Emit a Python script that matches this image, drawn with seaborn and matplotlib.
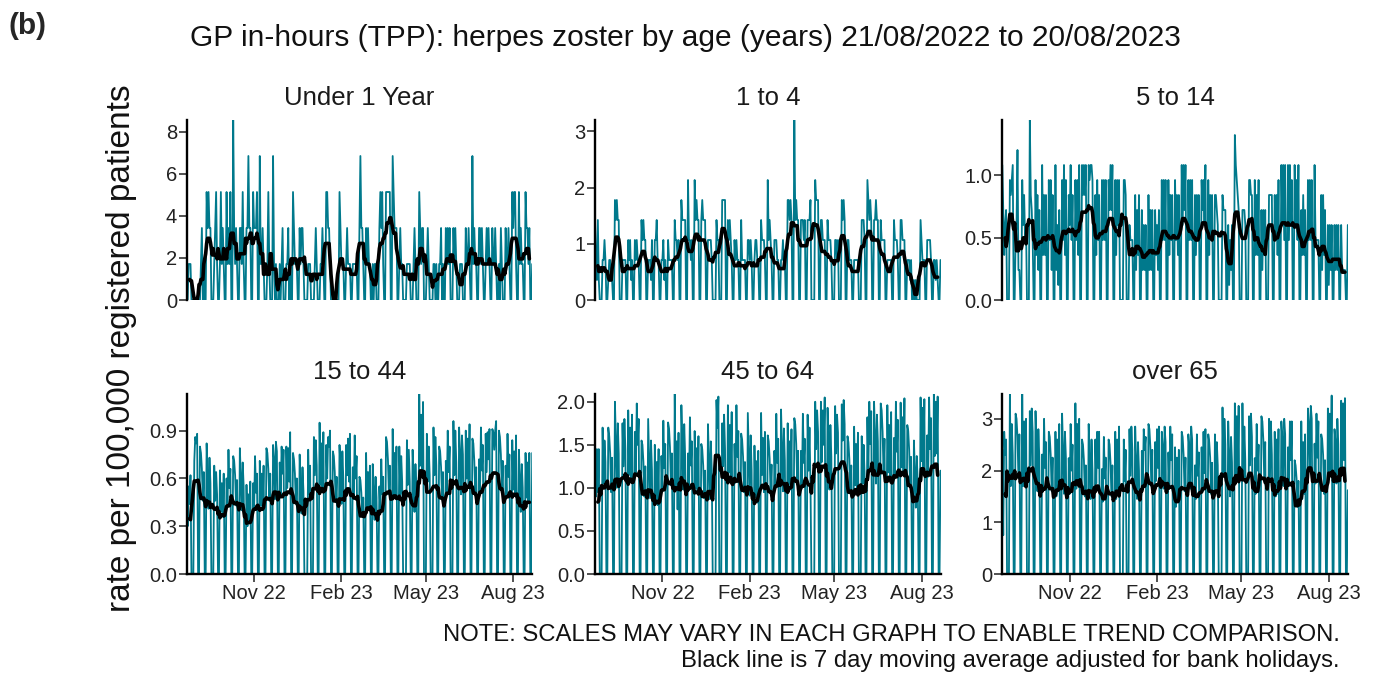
import numpy as np
import pandas as pd
import matplotlib
matplotlib.use("Agg")
import matplotlib.pyplot as plt
import matplotlib.dates as mdates
from matplotlib.ticker import FixedLocator, FormatStrFormatter
import seaborn as sns

# ---------------------------------------------------------------------------
# Daily data, Monday 22/08/2022 onwards (weeks laid out Mon..Sun, one per row).
# Practices are closed at weekends and on bank holidays, hence the zeros.
# ---------------------------------------------------------------------------
start_date = "2022-08-22"
bank_holidays = ["2022-08-29", "2022-09-19", "2022-12-26", "2022-12-27", "2023-01-02",
                 "2023-04-07", "2023-04-10", "2023-05-01", "2023-05-08", "2023-05-29"]

age_groups = ["Under 1 Year", "1 to 4", "5 to 14", "15 to 44", "45 to 64", "over 65"]

# Small age bands: daily consultation counts and registered population
under1_pop = 58500
under1_counts = [
    1, 0, 1, 1, 1, 0, 0,  0, 0, 0, 0, 0, 0, 0,  0, 1, 2, 0, 1, 0, 0,  3, 2, 3, 2, 2, 0, 0,
    0, 1, 2, 3, 1, 0, 0,  1, 3, 1, 2, 1, 0, 0,  3, 1, 2, 1, 3, 0, 0,  5, 2, 1, 2, 1, 0, 0,
    2, 2, 1, 3, 1, 0, 0,  2, 2, 4, 2, 2, 0, 0,  3, 2, 2, 2, 3, 0, 0,  4, 1, 1, 2, 1, 0, 0,
    0, 1, 3, 1, 0, 0, 0,  4, 1, 0, 1, 0, 0, 0,  1, 0, 1, 2, 0, 0, 0,  1, 1, 2, 0, 1, 0, 0,
    3, 2, 1, 1, 1, 0, 0,  2, 1, 2, 2, 1, 0, 0,  0, 0, 1, 1, 1, 0, 0,  0, 0, 1, 2, 1, 0, 0,
    0, 1, 1, 2, 1, 0, 0,  3, 3, 2, 2, 1, 0, 0,  0, 0, 0, 0, 0, 0, 0,  3, 2, 1, 1, 1, 0, 0,
    1, 2, 1, 1, 1, 0, 0,  1, 1, 1, 1, 1, 0, 0,  2, 4, 2, 2, 1, 0, 0,  2, 1, 2, 1, 1, 0, 0,
    1, 0, 1, 1, 0, 0, 0,  2, 3, 2, 3, 1, 0, 0,  3, 3, 3, 3, 3, 0, 0,  4, 3, 2, 2, 2, 0, 0,
    1, 2, 1, 1, 0, 0, 0,  0, 1, 1, 1, 1, 0, 0,  0, 1, 2, 1, 0, 0, 0,  3, 2, 1, 2, 2, 0, 0,
    0, 1, 2, 1, 0, 0, 0,  0, 1, 1, 0, 1, 0, 0,  1, 1, 2, 0, 1, 0, 0,  2, 1, 2, 1, 2, 0, 0,
    0, 2, 1, 2, 1, 0, 0,  0, 1, 1, 1, 0, 0, 0,  2, 1, 1, 2, 1, 0, 0,  4, 1, 2, 1, 1, 0, 0,
    2, 2, 1, 2, 1, 0, 0,  1, 2, 1, 2, 1, 0, 0,  2, 1, 1, 2, 1, 0, 0,  1, 0, 2, 1, 0, 0, 0,
    2, 1, 1, 2, 1, 0, 0,  3, 2, 3, 3, 1, 0, 0,  3, 1, 2, 1, 1, 0, 0,  3, 2, 2, 1, 2, 0, 0,
    1,
]

age1to4_pop = 281200
age1to4_counts = [
    4, 2, 1, 4, 1, 0, 0,  0, 2, 2, 3, 2, 0, 0,  1, 2, 2, 1, 1, 0, 0,  5, 4, 5, 4, 4, 0, 0,
    0, 2, 2, 2, 2, 0, 0,  3, 2, 3, 1, 2, 0, 0,  3, 2, 3, 2, 2, 0, 0,  4, 3, 4, 3, 3, 0, 0,
    2, 2, 2, 1, 3, 0, 0,  3, 3, 4, 2, 2, 0, 0,  2, 2, 3, 1, 2, 0, 0,  3, 2, 2, 2, 2, 0, 0,
    4, 3, 3, 2, 3, 0, 0,  5, 4, 4, 4, 4, 0, 0,  6, 3, 3, 2, 3, 0, 0,  6, 4, 5, 4, 4, 0, 0,
    4, 5, 4, 4, 4, 0, 0,  3, 3, 3, 3, 2, 0, 0,  0, 0, 4, 3, 3, 0, 0,  0, 5, 5, 5, 5, 0, 0,
    4, 3, 4, 3, 2, 0, 0,  3, 2, 3, 2, 2, 0, 0,  4, 2, 2, 2, 2, 0, 0,  3, 3, 2, 3, 2, 0, 0,
    2, 3, 3, 2, 2, 0, 0,  4, 3, 3, 3, 2, 0, 0,  6, 3, 4, 3, 2, 0, 0,  3, 3, 3, 2, 2, 0, 0,
    2, 2, 3, 2, 2, 0, 0,  5, 5, 4, 5, 4, 0, 0,  9, 4, 5, 4, 4, 0, 0,  4, 4, 4, 3, 4, 0, 0,
    4, 4, 4, 5, 0, 0, 0,  0, 6, 5, 5, 5, 0, 0,  4, 4, 3, 3, 3, 0, 0,  4, 3, 3, 3, 2, 0, 0,
    0, 3, 3, 2, 3, 0, 0,  0, 5, 4, 5, 4, 0, 0,  3, 3, 2, 2, 2, 0, 0,  2, 2, 2, 2, 2, 0, 0,
    0, 4, 4, 4, 3, 0, 0,  6, 5, 4, 5, 4, 0, 0,  4, 4, 5, 4, 4, 0, 0,  4, 3, 3, 3, 3, 0, 0,
    2, 2, 2, 2, 2, 0, 0,  4, 3, 3, 3, 2, 0, 0,  4, 4, 3, 3, 3, 0, 0,  2, 2, 2, 1, 2, 0, 0,
    1, 0, 1, 0, 0, 0, 0,  4, 3, 2, 2, 2, 0, 0,  3, 3, 3, 3, 2, 0, 0,  2, 2, 1, 2, 1, 0, 0,
    2,
]

age5to14_pop = 833000
age5to14_counts = [
    9, 6, 3, 5, 6, 0, 0,  0, 8, 7, 8, 9, 0, 0,  4, 5, 10, 2, 2, 0, 0,  8, 5, 7, 4, 5, 0, 0,
    0, 12, 7, 6, 4, 0, 0,  8, 3, 7, 2, 6, 0, 0,  9, 3, 7, 3, 7, 0, 0,  8, 4, 8, 2, 7, 0, 0,
    9, 2, 5, 1, 6, 0, 0,  8, 4, 9, 3, 8, 0, 0,  7, 5, 9, 4, 7, 0, 0,  8, 4, 8, 3, 9, 0, 0,
    9, 7, 9, 7, 9, 0, 0,  9, 8, 9, 9, 8, 0, 0,  7, 3, 8, 4, 7, 0, 0,  8, 4, 8, 4, 8, 0, 0,
    8, 6, 9, 6, 9, 0, 0,  8, 3, 8, 5, 8, 0, 0,  0, 0, 8, 8, 7, 0, 0,  0, 5, 4, 4, 4, 0, 0,
    7, 2, 6, 3, 7, 0, 0,  6, 2, 5, 2, 5, 0, 0,  7, 2, 6, 2, 6, 0, 0,  6, 3, 5, 2, 6, 0, 0,
    8, 4, 8, 4, 8, 0, 0,  8, 3, 7, 4, 7, 0, 0,  8, 4, 7, 3, 7, 0, 0,  9, 5, 9, 6, 9, 0, 0,
    8, 4, 8, 4, 8, 0, 0,  7, 3, 7, 4, 7, 0, 0,  8, 6, 8, 5, 9, 0, 0,  8, 3, 7, 4, 7, 0, 0,
    7, 7, 6, 5, 0, 0, 0,  0, 7, 6, 6, 6, 0, 0,  5, 1, 4, 2, 5, 0, 0,  11, 9, 8, 7, 6, 0, 0,
    0, 6, 6, 6, 5, 0, 0,  0, 8, 8, 7, 7, 0, 0,  8, 3, 7, 3, 8, 0, 0,  6, 2, 6, 3, 6, 0, 0,
    0, 7, 7, 7, 7, 0, 0,  7, 4, 7, 3, 8, 0, 0,  9, 5, 9, 4, 9, 0, 0,  9, 4, 9, 5, 8, 0, 0,
    9, 5, 8, 4, 9, 0, 0,  6, 3, 7, 3, 6, 0, 0,  8, 4, 8, 4, 8, 0, 0,  9, 4, 4, 4, 4, 0, 0,
    7, 2, 7, 3, 6, 0, 0,  5, 1, 5, 2, 5, 0, 0,  5, 2, 5, 2, 5, 0, 0,  5, 2, 2, 2, 2, 0, 0,
    5,
]

# Larger age bands: daily rate per 100,000 registered patients
age15to44_rate = [
    0.52, 0.30, 0.55, 0.44, 0.62, 0, 0,  0, 0.71, 0.86, 0.82, 0.88, 0, 0,
    0.80, 0.76, 0.66, 0.46, 0.64, 0, 0,  0.82, 0.63, 0.41, 0.73, 0.57, 0, 0,
    0, 0.68, 0.46, 0.64, 0.50, 0, 0,  0.65, 0.39, 0.57, 0.36, 0.63, 0, 0,
    0.60, 0.42, 0.78, 0.54, 0.66, 0, 0,  0.74, 0.71, 0.62, 0.43, 0.59, 0, 0,
    0.79, 0.61, 0.40, 0.70, 0.55, 0, 0,  0.56, 0.30, 0.50, 0.32, 0.58, 0, 0,
    0.57, 0.40, 0.74, 0.51, 0.63, 0, 0,  0.71, 0.43, 0.63, 0.40, 0.68, 0, 0,
    0.79, 0.76, 0.66, 0.46, 0.63, 0, 0,  0.81, 0.72, 0.47, 0.83, 0.77, 0, 0,
    0.70, 0.49, 0.80, 0.63, 0.78, 0, 0,  0.80, 0.54, 0.79, 0.58, 0.89, 0, 0,
    0.76, 0.72, 0.63, 0.44, 0.60, 0, 0,  0.75, 0.58, 0.38, 0.67, 0.52, 0, 0,
    0, 0, 0.78, 0.50, 0.68, 0, 0,  0, 0.86, 0.62, 0.84, 0.68, 0, 0,
    0.95, 0.56, 0.82, 0.53, 0.89, 0, 0,  0.81, 0.60, 0.86, 0.80, 0.90, 0, 0,
    0.77, 0.74, 0.64, 0.45, 0.61, 0, 0,  0.81, 0.67, 0.44, 0.77, 0.60, 0, 0,
    0.81, 0.62, 0.85, 0.58, 0.88, 0, 0,  0.67, 0.47, 0.87, 0.60, 0.74, 0, 0,
    0.61, 0.59, 0.51, 0.36, 0.48, 0, 0,  0.76, 0.41, 0.64, 0.41, 0.68, 0, 0,
    0.69, 0.53, 0.34, 0.61, 0.48, 0, 0,  0.55, 0.39, 0.72, 0.50, 0.61, 0, 0,
    0.86, 0.83, 0.72, 0.50, 0.68, 0, 0,  0.91, 0.48, 0.76, 0.48, 0.80, 0, 0,
    0.80, 0.50, 0.74, 0.58, 0, 0, 0,  0, 0.84, 0.56, 0.78, 0.58, 0, 0,
    0.78, 0.60, 0.39, 0.69, 0.54, 0, 0,  1.13, 0.68, 1.00, 0.64, 1.08, 0, 0,
    0, 0.88, 0.58, 0.80, 0.62, 0, 0,  0, 0.92, 0.62, 0.86, 0.68, 0, 0,
    0.80, 0.77, 0.67, 0.47, 0.64, 0, 0,  0.71, 0.50, 0.90, 0.64, 0.80, 0, 0,
    0, 0.96, 0.62, 0.90, 0.70, 0, 0,  0.92, 0.76, 0.50, 0.87, 0.75, 0, 0,
    0.90, 0.60, 0.85, 0.56, 0.94, 0, 0,  0.85, 0.82, 0.71, 0.50, 0.67, 0, 0,
    0.72, 0.50, 0.92, 0.65, 0.81, 0, 0,  0.88, 0.64, 0.89, 0.72, 0.91, 0, 0,
    0.91, 0.89, 0.78, 0.90, 0.96, 0, 0,  0.90, 0.86, 0.75, 0.53, 0.71, 0, 0,
    0.68, 0.48, 0.88, 0.61, 0.75, 0, 0,  0.84, 0.53, 0.77, 0.49, 0.87, 0, 0,
    0.78, 0.60, 0.39, 0.69, 0.54, 0, 0,  0.76, 0.48, 0.70, 0.45, 0.76, 0, 0,
    0.76,
]

age45to64_rate = [
    1.10, 0.90, 1.45, 0.95, 1.45, 0, 0,  0, 1.70, 1.05, 1.55, 1.30, 0, 0,
    1.70, 1.60, 1.40, 0.95, 1.35, 0, 0,  2.00, 1.55, 1.00, 1.75, 1.40, 0, 0,
    0, 1.75, 1.25, 1.80, 1.45, 0, 0,  1.90, 1.15, 1.70, 1.10, 1.85, 0, 0,
    1.65, 1.15, 1.98, 1.50, 1.80, 0, 0,  1.55, 1.50, 1.30, 0.90, 1.25, 0, 0,
    1.80, 1.36, 0.88, 1.55, 1.21, 0, 0,  1.50, 0.85, 1.30, 0.80, 1.45, 0, 0,
    1.37, 0.96, 1.78, 1.23, 1.51, 0, 0,  1.76, 1.69, 1.47, 1.03, 1.40, 0, 0,
    2.09, 0.98, 1.54, 0.75, 1.64, 0, 0,  1.96, 1.51, 0.98, 1.74, 1.36, 0, 0,
    1.40, 0.98, 1.82, 1.26, 1.54, 0, 0,  1.66, 1.00, 1.46, 0.93, 1.60, 0, 0,
    1.51, 1.45, 1.26, 0.88, 1.20, 0, 0,  1.74, 1.34, 0.87, 1.54, 1.21, 0, 0,
    0, 0, 2.02, 1.70, 2.06, 0, 0,  0, 1.75, 1.25, 1.85, 1.45, 0, 0,
    1.96, 1.18, 1.73, 1.10, 1.88, 0, 0,  1.51, 1.06, 1.96, 1.36, 1.66, 0, 0,
    1.63, 1.56, 1.36, 0.95, 1.30, 0, 0,  1.87, 1.40, 0.91, 1.61, 1.21, 0, 0,
    1.49, 0.89, 1.31, 0.83, 1.43, 0, 0,  1.87, 1.15, 1.58, 0.95, 1.65, 0, 0,
    1.61, 1.54, 1.34, 0.94, 1.27, 0, 0,  1.43, 1.00, 1.86, 1.29, 1.57, 0, 0,
    1.91, 1.47, 0.96, 1.69, 1.32, 0, 0,  1.75, 1.05, 1.54, 0.98, 1.68, 0, 0,
    1.81, 1.74, 1.51, 1.06, 1.43, 0, 0,  1.43, 1.00, 1.86, 1.29, 1.57, 0, 0,
    1.85, 1.20, 1.70, 1.05, 0, 0, 0,  0, 2.00, 1.45, 1.90, 1.65, 0, 0,
    2.00, 1.30, 1.90, 1.50, 2.05, 0, 0,  1.93, 1.50, 0.98, 1.73, 1.36, 0, 0,
    0, 1.95, 1.40, 1.85, 1.64, 0, 0,  0, 1.97, 1.55, 2.02, 1.74, 0, 0,
    1.60, 1.53, 1.33, 0.93, 1.26, 0, 0,  1.71, 1.03, 1.51, 0.96, 1.64, 0, 0,
    0, 1.60, 1.05, 1.50, 1.17, 0, 0,  1.82, 1.18, 2.00, 1.51, 1.89, 0, 0,
    2.00, 1.61, 1.05, 1.85, 1.54, 0, 0,  1.98, 1.90, 1.65, 1.16, 1.57, 0, 0,
    1.96, 1.18, 1.73, 1.10, 1.88, 0, 0,  1.58, 1.11, 2.00, 1.42, 1.79, 0, 0,
    1.99, 1.24, 1.82, 1.16, 2.04, 0, 0,  1.73, 1.66, 1.44, 1.01, 1.36, 0, 0,
    1.55, 1.19, 0.77, 1.37, 1.07, 0, 0,  2.05, 1.31, 1.93, 1.23, 2.03, 0, 0,
    1.61, 1.13, 2.05, 1.45, 1.81, 0, 0,  2.09, 1.37, 2.00, 1.40, 2.06, 0, 0,
    1.20,
]

over65_rate = [
    2.40, 0.75, 2.75, 2.30, 2.60, 0, 0,  0, 3.48, 1.70, 2.90, 2.30, 0, 0,
    3.10, 3.00, 2.65, 1.85, 2.70, 0, 0,  3.48, 1.70, 2.95, 1.80, 3.00, 0, 0,
    0, 3.15, 2.10, 3.20, 2.75, 0, 0,  3.15, 2.45, 1.60, 2.80, 2.25, 0, 0,
    2.31, 1.60, 3.00, 2.05, 2.55, 0, 0,  2.75, 2.65, 2.30, 1.60, 2.25, 0, 0,
    2.75, 1.50, 2.60, 1.60, 2.90, 0, 0,  3.10, 2.40, 1.55, 2.75, 2.25, 0, 0,
    2.24, 1.55, 2.90, 2.00, 2.50, 0, 0,  3.30, 1.65, 2.90, 1.75, 3.00, 0, 0,
    2.60, 2.50, 2.20, 1.50, 2.10, 0, 0,  2.90, 2.25, 1.45, 2.60, 2.00, 0, 0,
    2.60, 1.75, 2.75, 2.05, 2.75, 0, 0,  2.03, 1.40, 2.65, 1.85, 2.25, 0, 0,
    2.60, 2.50, 2.15, 1.50, 2.10, 0, 0,  2.75, 1.45, 2.60, 1.55, 2.85, 0, 0,
    0, 0, 2.60, 1.80, 2.40, 0, 0,  0, 2.80, 1.90, 2.85, 2.40, 0, 0,
    2.85, 2.20, 1.45, 2.55, 2.00, 0, 0,  2.38, 1.65, 2.80, 2.40, 2.65, 0, 0,
    2.90, 2.80, 2.45, 1.70, 2.40, 0, 0,  2.55, 1.80, 2.80, 2.05, 2.85, 0, 0,
    2.75, 2.45, 1.65, 2.85, 2.55, 0, 0,  2.35, 1.65, 2.85, 2.20, 2.70, 0, 0,
    2.45, 1.30, 2.25, 1.40, 2.40, 0, 0,  2.75, 2.65, 2.30, 1.60, 2.25, 0, 0,
    2.70, 2.45, 1.65, 2.85, 2.60, 0, 0,  2.10, 1.45, 2.70, 1.90, 2.35, 0, 0,
    2.45, 1.60, 2.75, 1.95, 2.80, 0, 0,  2.70, 2.55, 2.25, 1.55, 2.15, 0, 0,
    2.70, 1.65, 2.55, 2.10, 0, 0, 0,  0, 3.22, 1.90, 3.00, 2.50, 0, 0,
    2.95, 2.30, 1.50, 2.65, 2.15, 0, 0,  3.30, 1.80, 3.05, 1.90, 3.25, 0, 0,
    0, 3.30, 1.85, 2.85, 2.20, 0, 0,  0, 3.05, 2.10, 3.10, 2.65, 0, 0,
    2.24, 1.55, 2.90, 2.00, 2.50, 0, 0,  3.05, 2.95, 2.60, 1.80, 2.55, 0, 0,
    0, 3.00, 1.85, 2.95, 2.30, 0, 0,  2.75, 1.50, 2.60, 1.55, 2.80, 0, 0,
    2.95, 2.60, 1.70, 3.00, 2.70, 0, 0,  2.45, 1.70, 2.95, 2.20, 2.95, 0, 0,
    2.20, 2.10, 1.85, 1.30, 1.80, 0, 0,  2.95, 1.45, 2.55, 1.55, 2.70, 0, 0,
    3.20, 2.90, 2.00, 3.25, 3.00, 0, 0,  2.52, 1.75, 3.10, 2.25, 2.95, 0, 0,
    2.70, 2.60, 2.30, 1.55, 2.20, 0, 0,  3.20, 1.90, 3.10, 2.00, 3.45, 0, 0,
    2.80, 2.55, 1.75, 3.00, 2.50, 0, 0,  3.35, 2.05, 3.30, 2.20, 3.40, 0, 0,
    1.62,
]

# y-axis breaks for each panel
y_breaks = [[0, 2, 4, 6, 8], [0, 1, 2, 3], [0.0, 0.5, 1.0],
            [0.0, 0.3, 0.6, 0.9], [0.0, 0.5, 1.0, 1.5, 2.0], [0, 1, 2, 3]]
y_formats = ["%d", "%d", "%.1f", "%.1f", "%.1f", "%d"]
x_breaks = ["2022-11-01", "2023-02-01", "2023-05-01", "2023-08-01"]

# ---------------------------------------------------------------------------
dates = pd.date_range(start_date, periods=len(under1_counts), freq="D")
holidays = pd.to_datetime(bank_holidays)

rates = {
    "Under 1 Year": np.array(under1_counts) * 100000 / under1_pop,
    "1 to 4": np.array(age1to4_counts) * 100000 / age1to4_pop,
    "5 to 14": np.array(age5to14_counts) * 100000 / age5to14_pop,
    "15 to 44": np.array(age15to44_rate, dtype=float),
    "45 to 64": np.array(age45to64_rate, dtype=float),
    "over 65": np.array(over65_rate, dtype=float),
}

working = (~dates.dayofweek.isin([5, 6])) & (~dates.isin(holidays))


def adjusted_moving_average(values):
    """Centred 7-day average, rescaled by the number of working days in the window."""
    s = pd.Series(values, index=dates)
    total = s.rolling(7, center=True).sum()
    n_work = pd.Series(working.astype(float), index=dates).rolling(7, center=True).sum()
    return (total / n_work * 5 / 7).values


frames = []
for g in age_groups:
    frames.append(pd.DataFrame({"date": dates, "rate": rates[g],
                                "avg": adjusted_moving_average(rates[g]), "group": g}))
df = pd.concat(frames, ignore_index=True)

# ---------------------------------------------------------------------------
sns.set_theme(style="ticks")
plt.rcParams["font.family"] = ["Liberation Sans", "DejaVu Sans"]

W, H = 1381, 675
fig = plt.figure(figsize=(W / 100, H / 100), dpi=100)

TEAL = "#00798C"
lefts = [186.7, 595.0, 1002.3]
panel_w = 345.5
rows = [(120, 300), (394, 574)]

for i, g in enumerate(age_groups):
    r, c = divmod(i, 3)
    top, bottom = rows[r]
    left = lefts[c]
    ax = fig.add_axes([left / W, 1 - bottom / H, panel_w / W, (bottom - top) / H])
    sub = df[df["group"] == g]
    sns.lineplot(data=sub, x="date", y="rate", ax=ax, color=TEAL, linewidth=1.3,
                 estimator=None)
    sns.lineplot(data=sub.dropna(subset=["avg"]), x="date", y="avg", ax=ax,
                 color="black", linewidth=2.6, estimator=None)

    ax.set_xlim(dates[0], dates[-1])
    ax.set_ylim(0, sub["rate"].max())
    ax.set_xlabel("")
    ax.set_ylabel("")
    ax.set_title(g, fontsize=18.5, color="#1a1a1a", pad=11)

    ax.yaxis.set_major_locator(FixedLocator(y_breaks[i]))
    ax.yaxis.set_major_formatter(FormatStrFormatter(y_formats[i]))

    for s in ["top", "right"]:
        ax.spines[s].set_visible(False)
    ax.spines["left"].set_linewidth(1.7)
    ax.spines["left"].set_color("black")
    ax.tick_params(axis="y", length=5.5, width=1.2, color="#333333",
                   labelsize=14.5, labelcolor="#222222", pad=1.5)

    if r == 0:
        ax.spines["bottom"].set_visible(False)
        ax.tick_params(axis="x", bottom=False, labelbottom=False)
    else:
        ax.spines["bottom"].set_linewidth(1.7)
        ax.spines["bottom"].set_color("black")
        ax.xaxis.set_major_locator(FixedLocator(mdates.date2num(pd.to_datetime(x_breaks))))
        ax.xaxis.set_major_formatter(mdates.DateFormatter("%b %y"))
        ax.tick_params(axis="x", length=5.5, width=1.2, color="#333333",
                       labelsize=14.5, labelcolor="#222222", pad=2)
    ax.grid(False)

fig.text(0.006, 0.962, "(b)", fontsize=21.5, fontweight="bold", ha="left", va="center")
fig.text(0.496, 0.944,
         "GP in-hours (TPP): herpes zoster by age (years) 21/08/2022 to 20/08/2023",
         fontsize=21.5, ha="center", va="center", color="#111111")
fig.text(0.088, 0.484, "rate per 100,000 registered patients", rotation=90,
         fontsize=24, ha="center", va="center", color="#111111")
fig.text(0.970, 0.059, "NOTE: SCALES MAY VARY IN EACH GRAPH TO ENABLE TREND COMPARISON.",
         fontsize=17.2, ha="right", va="center", color="#111111")
fig.text(0.970, 0.021, "Black line is 7 day moving average adjusted for bank holidays.",
         fontsize=17.2, ha="right", va="center", color="#111111")

fig.savefig("out.png", dpi=100)
